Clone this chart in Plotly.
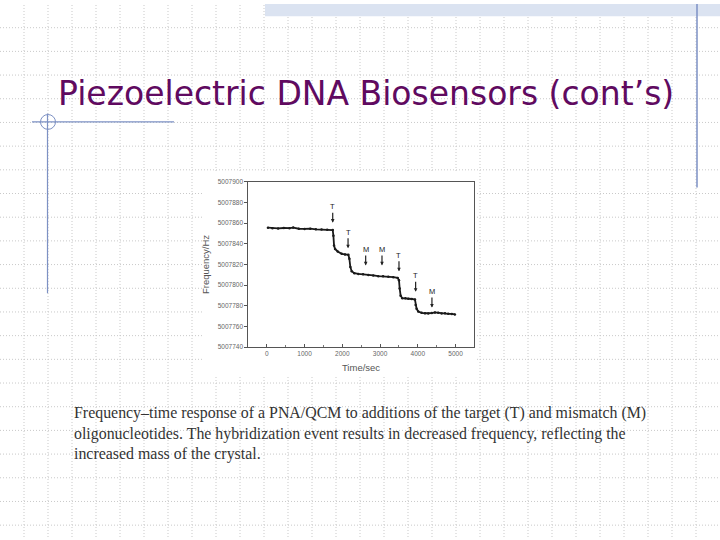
import plotly.graph_objects as go

W, H = 720, 540

# ---- data ----
time_sec = [30, 150, 300, 450, 600, 700, 850, 1000, 1150, 1300, 1450, 1600, 1746,
            1764, 1781, 1808, 1878, 1984, 2072, 2160,
            2187, 2213, 2249, 2319, 2425, 2550, 2690, 2820, 2954, 3080, 3219, 3350, 3466,
            3501, 3519, 3545, 3589, 3670, 3748, 3840, 3924,
            3942, 3968, 4012, 4101, 4190, 4277, 4370, 4453, 4540, 4630, 4720, 4806, 4900, 4982]
freq_hz = [5007855.5, 5007855.0, 5007854.8, 5007855.2, 5007855.0, 5007855.6, 5007854.5,
           5007854.3, 5007854.6, 5007853.9, 5007853.8, 5007853.6, 5007853.2,
           5007847.8, 5007838.2, 5007835.0, 5007832.5, 5007830.3, 5007829.6, 5007829.3,
           5007825.5, 5007817.5, 5007813.4, 5007811.5, 5007810.8, 5007810.5, 5007809.9,
           5007809.4, 5007808.6, 5007808.5, 5007808.0, 5007807.7, 5007807.0,
           5007804.8, 5007796.8, 5007789.8, 5007787.3, 5007787.2, 5007786.9, 5007786.6, 5007786.0,
           5007780.9, 5007777.1, 5007774.5, 5007773.2, 5007772.8, 5007772.6, 5007773.0,
           5007773.6, 5007773.2, 5007772.6, 5007772.8, 5007772.3, 5007772.2, 5007771.7]

event_labels = ["T", "T", "M", "M", "T", "T", "M"]
event_time = [1746, 2152, 2619, 3051, 3501, 3942, 4374]
event_tip = [5007860.4, 5007835.6, 5007819.0, 5007819.0, 5007813.3, 5007793.6, 5007778.3]

x_ticks = [0, 1000, 2000, 3000, 4000, 5000]
y_ticks = [5007740, 5007760, 5007780, 5007800, 5007820, 5007840, 5007860, 5007880, 5007900]

title_text = "Piezoelectric DNA Biosensors (cont’s)"
caption_lines = [
    "Frequency–time response of a PNA/QCM to additions of the target (T) and mismatch (M)",
    "oligonucleotides. The hybridization event results in decreased frequency, reflecting the",
    "increased mass of the crystal.",
]

def px(x):
    return x / W

def py(y):
    return 1 - y / H

fig = go.Figure()
fig.add_trace(go.Scatter(
    x=time_sec, y=freq_hz, mode="lines+markers",
    line=dict(color="#1a1a1a", width=1.8),
    marker=dict(size=2.5, color="#1a1a1a"),
    showlegend=False, hoverinfo="skip",
))

shapes = []
grid_col = "#c9c9c9"
for k in range(1, 30):
    shapes.append(dict(type="line", xref="paper", yref="paper", layer="below",
                       x0=px(24 * k), x1=px(24 * k), y0=0, y1=1,
                       line=dict(color=grid_col, width=1, dash="1px,2px")))
for k in range(1, 23):
    shapes.append(dict(type="line", xref="paper", yref="paper", layer="below",
                       x0=0, x1=1, y0=py(24 * k), y1=py(24 * k),
                       line=dict(color=grid_col, width=1, dash="1px,2px")))
# top band
shapes.append(dict(type="rect", xref="paper", yref="paper", layer="below",
                   x0=px(265), x1=1, y0=py(12.5), y1=1,
                   fillcolor="#dbe3f1", line=dict(width=0)))
# image white area
shapes.append(dict(type="rect", xref="paper", yref="paper", layer="below",
                   x0=px(203), x1=px(477), y0=py(377), y1=py(171),
                   fillcolor="white", line=dict(width=0)))
deco = "#7d91c4"
shapes.append(dict(type="line", xref="paper", yref="paper",
                   x0=px(697), x1=px(697), y0=py(186), y1=1,
                   line=dict(color=deco, width=1.5)))
shapes.append(dict(type="line", xref="paper", yref="paper",
                   x0=px(32), x1=px(174), y0=py(119.5), y1=py(119.5),
                   line=dict(color=deco, width=1.2)))
shapes.append(dict(type="line", xref="paper", yref="paper",
                   x0=px(47.5), x1=px(47.5), y0=py(293), y1=py(111),
                   line=dict(color=deco, width=1.2)))
shapes.append(dict(type="circle", xref="paper", yref="paper",
                   x0=px(40.5), x1=px(55.5), y0=py(127), y1=py(112),
                   line=dict(color=deco, width=1)))

annotations = []
for lab, t, tip in zip(event_labels, event_time, event_tip):
    annotations.append(dict(
        x=t, y=tip, xref="x", yref="y", text=lab, showarrow=True,
        ax=0, ay=-16, arrowhead=2, arrowsize=0.6, arrowwidth=1.2,
        arrowcolor="#222", standoff=0,
        font=dict(family="Liberation Sans", size=7.5, color="#222"),
    ))
annotations.append(dict(
    x=px(56), y=py(91), xref="paper", yref="paper", xanchor="left", yanchor="middle",
    text=title_text, showarrow=False,
    font=dict(family="DejaVu Sans", size=33, color="#600a60"),
))
annotations.append(dict(
    x=px(72), y=py(403), xref="paper", yref="paper", xanchor="left", yanchor="top",
    align="left", text="<br>".join(caption_lines), showarrow=False,
    font=dict(family="Liberation Serif", size=15.9, color="#333333"),
))

fig.update_layout(
    width=W, height=H, margin=dict(l=0, r=0, t=0, b=0),
    paper_bgcolor="white", plot_bgcolor="rgba(0,0,0,0)",
    shapes=shapes, annotations=annotations, showlegend=False,
    xaxis=dict(domain=[px(248.3), px(473.7)], range=[-490, 5480],
               tickvals=x_ticks, ticktext=[str(v) for v in x_ticks],
               ticks="inside", ticklen=3, tickcolor="#555",
               showgrid=False, zeroline=False, showline=True, mirror=True,
               linecolor="#555", linewidth=1,
               tickfont=dict(family="Liberation Sans", size=6.5, color="#666"),
               title=dict(text="Time/sec", font=dict(family="Liberation Sans", size=9.5, color="#555"), standoff=8),
               minor=dict(ticks="inside", dtick=500, ticklen=2, tickcolor="#777")),
    yaxis=dict(domain=[py(347.7), py(180)], range=[5007740, 5007900],
               tickvals=y_ticks, ticktext=[str(v) for v in y_ticks],
               ticks="outside", ticklen=3, tickcolor="#555",
               showgrid=False, zeroline=False, showline=True, mirror=True,
               linecolor="#555", linewidth=1,
               tickfont=dict(family="Liberation Sans", size=6.5, color="#666"),
               title=dict(text="Frequency/Hz", font=dict(family="Liberation Sans", size=9.5, color="#555"), standoff=6)),
)

fig.write_html("out.html")
